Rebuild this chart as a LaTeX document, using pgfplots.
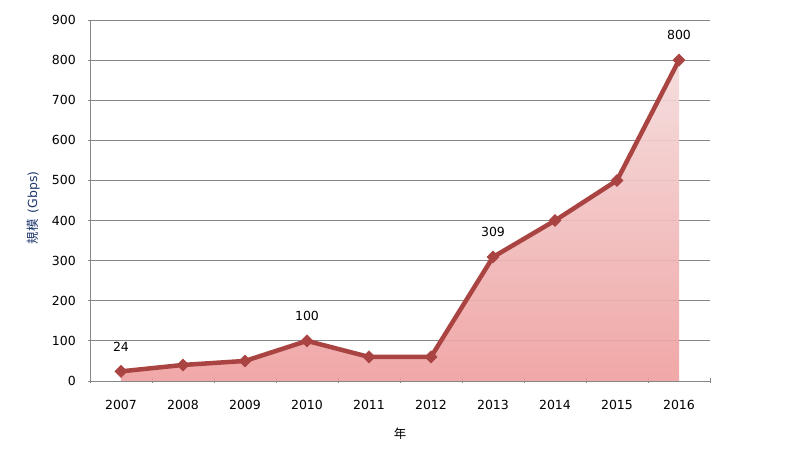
\documentclass[border=0pt]{standalone}
\usepackage{pgfplots}
\pgfplotsset{compat=1.18}
\usepackage{fontspec}
\setmainfont{DejaVu Sans}
\newfontfamily\cjk{Noto Sans CJK JP}
\definecolor{linered}{RGB}{169,68,66}
\definecolor{areatop}{RGB}{244,218,218}
\definecolor{areabot}{RGB}{239,158,158}
\definecolor{gridgray}{RGB}{134,134,134}
\definecolor{labelblue}{RGB}{31,56,110}
\begin{document}
\fontsize{12}{14}\selectfont
\begin{tikzpicture}
\path[use as bounding box] (-90pt,-68pt) rectangle (710pt,381pt);
\begin{axis}[
  scale only axis,
  width=620pt, height=361pt,
  xmin=-0.5, xmax=9.5,
  ymin=0, ymax=900,
  xtick={0,...,9},
  xticklabels={2007,2008,2009,2010,2011,2012,2013,2014,2015,2016},
  minor xtick={-0.5,0.5,...,9.5},
  xtick style={draw=none},
  minor x tick style={draw=gridgray, line width=0.8pt},
  minor tick length=5pt,
  ytick={0,100,...,900},
  ytick style={draw=gridgray, line width=0.8pt},
  major tick length=4pt,
  tick align=outside,
  axis x line=bottom, axis y line=left,
  axis line style={draw=gridgray, line width=0.8pt, -},
  ymajorgrids,
  grid style={draw=gridgray, line width=0.8pt},
  tick label style={font=\fontsize{12.5}{14}\selectfont, text=black},
  /pgf/number format/assume math mode=true,
  yticklabel style={xshift=-8pt},
  xticklabel style={yshift=-13pt},
  xlabel={\cjk 年},
  xlabel style={font=\fontsize{12.5}{14}\selectfont, yshift=-10pt},
  ylabel={{\cjk 規模}\, (Gbps)},
  ylabel style={at={(ticklabel cs:0.48)}, font=\fontsize{12.5}{14}\selectfont, text=labelblue, yshift=4pt},
  clip=false,
]
\addplot[draw=none, top color=areatop, bottom color=areabot, fill opacity=0.9]
  coordinates {(0,24) (1,40) (2,50) (3,100) (4,60) (5,60) (6,309) (7,400) (8,500) (9,800)} \closedcycle;
\addplot[color=linered, line width=4.5pt, mark=square*, mark size=4.3pt,
  mark options={fill=linered, draw=linered, line width=0.5pt, rotate=45}]
  coordinates {(0,24) (1,40) (2,50) (3,100) (4,60) (5,60) (6,309) (7,400) (8,500) (9,800)};
\addplot[draw=none, mark=none, nodes near coords,
  nodes near coords style={anchor=center, yshift=25pt, font=\fontsize{12.5}{14}\selectfont, text=black}]
  coordinates {(0,24) (3,100) (6,309) (9,800)};
\end{axis}
\end{tikzpicture}
\end{document}
